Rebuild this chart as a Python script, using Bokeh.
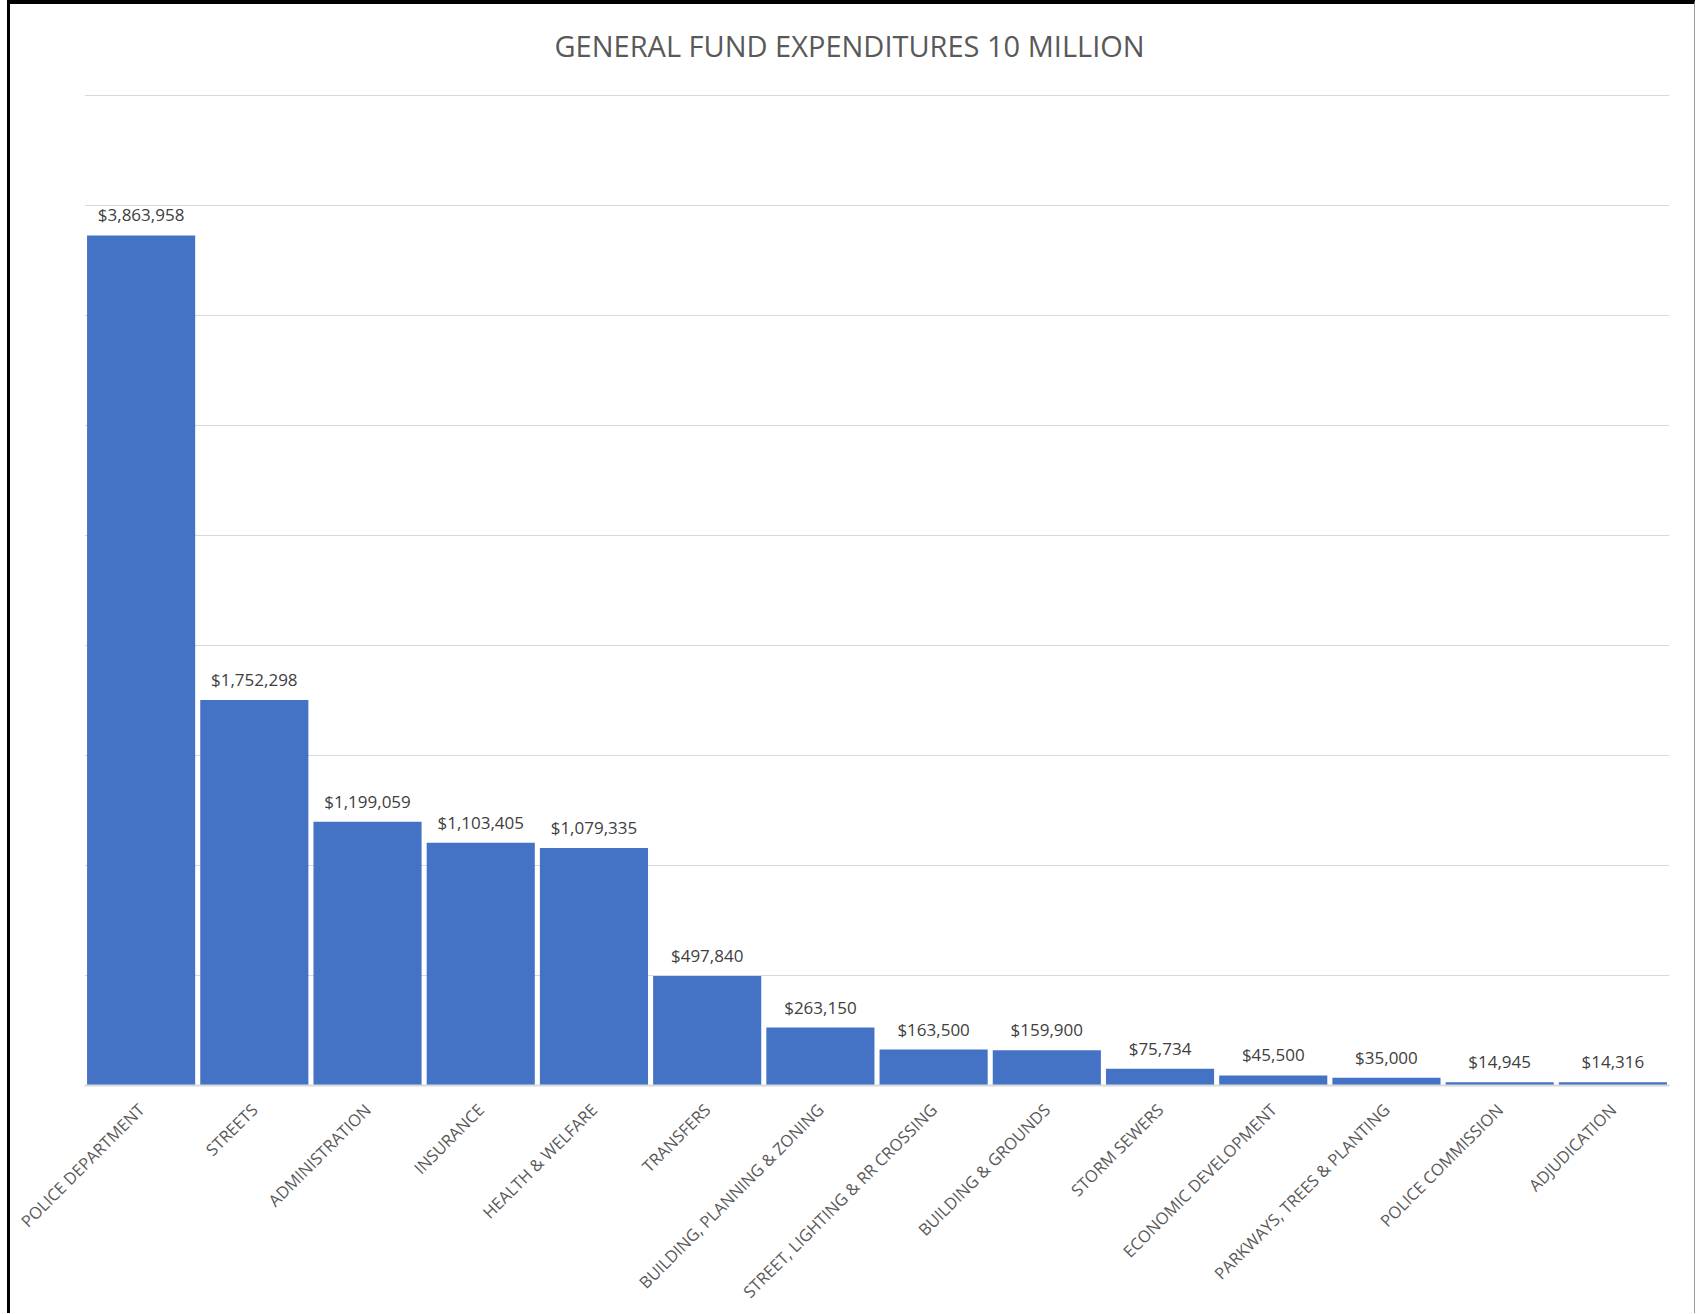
import math
from bokeh.plotting import figure
from bokeh.models import ColumnDataSource, LabelSet, Label, Range1d, FactorRange, FixedTicker
from bokeh.core.properties import value
from bokeh.embed import file_html
from bokeh.resources import INLINE

title_text = "GENERAL FUND EXPENDITURES 10 MILLION"

categories = [
    "POLICE DEPARTMENT",
    "STREETS",
    "ADMINISTRATION",
    "INSURANCE",
    "HEALTH & WELFARE",
    "TRANSFERS",
    "BUILDING, PLANNING & ZONING",
    "STREET, LIGHTING & RR CROSSING",
    "BUILDING & GROUNDS",
    "STORM SEWERS",
    "ECONOMIC DEVELOPMENT",
    "PARKWAYS, TREES & PLANTING",
    "POLICE COMMISSION",
    "ADJUDICATION",
]

values = [3863958, 1752298, 1199059, 1103405, 1079335, 497840, 263150,
          163500, 159900, 75734, 45500, 35000, 14945, 14316]

grid_ticks = [0, 500000, 1000000, 1500000, 2000000, 2500000, 3000000,
              3500000, 4000000, 4500000]

labels = [f"${v:,}" for v in values]
src = ColumnDataSource(dict(cat=categories, val=values, lab=labels))

# the frame reaches up to the top of the chart so the title can sit inside it;
# the top gridline stays at 4.5M
FRAME_W, FRAME_H = 1585, 1081
Y_END = 4914000

p = figure(
    x_range=FactorRange(*categories),
    y_range=Range1d(0, Y_END),
    frame_width=FRAME_W, frame_height=FRAME_H,
    min_border_left=74, min_border_right=25,
    min_border_top=0, min_border_bottom=225,
    output_backend="svg", toolbar_location=None,
)
p.styles = {"border-left": "3px solid black", "border-top": "4px solid black",
            "border-right": "1px solid #9a9a9a", "margin-left": "7px"}

p.add_layout(Label(
    x=470, y=1040, x_units="screen", y_units="screen",
    text=title_text, text_align="left", text_baseline="alphabetic",
    text_font="Open Sans", text_font_size="29px", text_color="#595959",
))

p.vbar(x="cat", top="val", width=0.955, source=src,
       fill_color="#4472C4", line_color=None)

p.add_layout(LabelSet(
    x="cat", y="val", text="lab", source=src,
    text_align="center", text_baseline="alphabetic", y_offset=14,
    text_font=value("Open Sans"), text_font_size="17px", text_color="#404040",
))

p.xaxis.major_label_orientation = math.pi / 4
p.xaxis.major_label_text_font = "Open Sans"
p.xaxis.major_label_text_font_size = "16.5px"
p.xaxis.major_label_text_color = "#595959"
p.xaxis.axis_line_color = "#D9D9D9"
p.xaxis.axis_line_width = 2
p.xaxis.major_tick_line_color = None
p.xaxis.minor_tick_line_color = None
p.xaxis.major_label_standoff = 15

p.yaxis.ticker = FixedTicker(ticks=grid_ticks)
p.yaxis.visible = False
p.ygrid.ticker = FixedTicker(ticks=grid_ticks)
p.ygrid.grid_line_color = "#D9D9D9"
p.ygrid.grid_line_width = 1
p.xgrid.grid_line_color = None
p.outline_line_color = None
p.background_fill_color = "white"
p.border_fill_color = "white"

open("out.html", "w").write(file_html(p, INLINE))
